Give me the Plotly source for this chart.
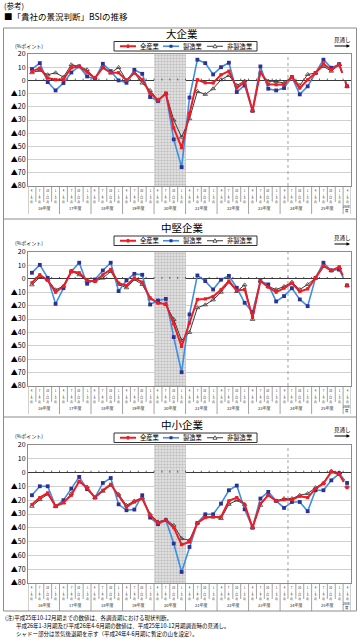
import plotly.graph_objects as go

# ---------------- data ----------------
quarters = ["4~6月", "7~9月", "10~12月", "1~3月"]
fiscal_years = ["16年度", "17年度", "18年度", "19年度", "20年度", "21年度",
                "22年度", "23年度", "24年度", "25年度", "26年度"]
categories = [fy + q for fy in fiscal_years[:-1] for q in quarters] + [fiscal_years[-1] + quarters[0]]
quarter_labels = [q for fy in fiscal_years[:-1] for q in quarters] + [quarters[0]]

series_names = ["全産業", "製造業", "非製造業"]

large_all = [6.8, 9.3, 1.8, 0.5, 0.8, 9.6, 10.6, 6.3, 1.8, 9.6, 5.8, 5.8, 0, 5.8, 0.5, -9.6,
             -15, -10, -36, -51, -25, 0.5, -1.8, -2, 4.3, 7, -5.8, -1.3, -23, 6.3, -3, -3.3,
             -3.3, 2.5, -5.8, 0.5, 5.6, 12.6, 8, 12.1, -4.5]
large_mfg = [8.6, 13.1, -1.3, -7.6, -2, 6, 10.6, 3, 1.3, 12.6, 7, 0, -1.8, 8, 5, -12.6,
             -15.6, -10, -44.7, -65.7, -13, 15.7, 13.1, 4.5, 10, 13.4, -8.8, -3.8, -23, 10.6, -6.3, -7.6,
             -5.8, 2.5, -10.6, -4.5, 5.6, 15.7, 9.6, 12.1, -4.5]
large_non = [5.8, 7.6, 4.3, 5.8, 2.5, 11.9, 10.6, 8, 1.8, 10.9, 5.6, 9.8, 0, 5.6, -2, -7.6,
             -15, -10, -30, -43, -29, -8.3, -10.6, -6.3, 0.5, 3.8, -3.8, -0.5, -23, 5.6, -0.5, -0.8,
             -2, 2.5, -3.8, 4.5, 5.6, 10.6, 7, 12.1, -4.5]

mid_all = [-3, 3, -1.2, -10, -5.7, 5.5, 4.5, -1.2, -2, 3, 7, -3.2, -5, 0.7, -2.5, -14.2,
           -18.2, -18.7, -33.6, -50.5, -33, -15.4, -15, -13.2, -8.2, -1.7, -8.7, -8, -28.6, -1.7, -6.2, -10,
           -7, -3.2, -9.5, -7.5, 0.7, 9.5, 6.2, 8.7, -5]
mid_mfg = [4.5, 10.4, 0.7, -18.7, -7, 5.5, 12, -3.7, -0.5, 6.2, 12, -9.2, -1.2, 3.7, 3, -19.2,
           -16.2, -15, -43.5, -69.7, -26.6, 2.5, -1.7, -8, -0.7, 2.2, -6.7, -17.9, -24.9, -1.7, -4.2, -16.9,
           -12.9, -7, -15.4, -20.4, 0.7, 12, 6.2, 7, -5]
mid_non = [-4.5, 1.2, -0.7, -8.2, -5.5, 5.7, 3, -1.7, -1.7, 0.5, 5.5, -4.2, -6.7, -0.5, -4.2, -15,
           -17.4, -19.2, -30.3, -46, -40, -21.6, -19.4, -15.7, -10, -2.5, -9.5, -4.5, -30.3, -1.7, -5.7, -8,
           -5.7, -2.5, -8, -4.2, 0.7, 10, 6.2, 8.2, -5]

small_all = [-23.2, -18.1, -14.7, -24.4, -21.7, -16.4, -6.3, -11.1, -18.1, -12.8, -8.5, -16.4, -24.9, -21.3, -18.8, -30.9,
             -36.5, -34.5, -39.9, -52.2, -50.2, -36.5, -32.6, -32.1, -32.1, -20.5, -18.1, -23, -39.9, -22.5, -16.4, -20.5,
             -19.6, -19.6, -17.1, -18.1, -11.6, -8, 0.5, -1.2, -10.9]
small_mfg = [-16.4, -9.9, -9.9, -24.4, -20, -11.6, -3.1, -12, -18.1, -7.5, -3.9, -23, -27.3, -26.8, -16.4, -32.6,
             -37.4, -34.5, -51.4, -72, -53.9, -36.5, -30.2, -30.2, -22.5, -12.8, -9.4, -26.6, -39.9, -18.8, -14, -20.5,
             -25.6, -21.3, -21.3, -28, -12.8, -12.8, -5.6, -0.7, -7.5]
small_non = [-24.4, -19.6, -15.7, -24.4, -22, -15.2, -6.8, -10.4, -18.1, -13.5, -9.2, -15.7, -23.7, -20.5, -18.1, -30.2,
             -35.7, -34.1, -38.2, -47.8, -49, -36.5, -32.1, -32.1, -33.3, -23, -20, -23.2, -39.9, -23.7, -16.4, -20.5,
             -18.8, -18.8, -16.4, -15.2, -10.9, -7.5, 1.2, -0.2, -9.9]

y_ticks = [20, 10, 0, -10, -20, -30, -40, -50, -60, -70, -80]
y_ticktext = [("▲" + str(-v)) if v < 0 else str(v) for v in y_ticks]
Y_MIN, Y_MAX = -80, 20

panel_titles = ["大企業", "中堅企業", "中小企業"]
panel_values = [(large_all, large_mfg, large_non), (mid_all, mid_mfg, mid_non), (small_all, small_mfg, small_non)]

recession_start, recession_len = 16, 4   # 20年度
peak_boundary = 32.5                      # after 24年4-6月

header1 = "(参考)"
header2 = "■「貴社の景況判断」BSIの推移"
notes = ["(注)平成25年10-12月期までの数値は、各調査期における現状判断。",
         "平成26年1-3月期及び平成26年4-6月期の数値は、平成25年10-12月期調査時の見通し。",
         "シャドー部分は景気後退期を示す（平成24年4-6月期に暫定の山を設定）。"]

# ---------------- layout helpers ----------------
W, H = 360, 640
FONT = "Noto Sans CJK JP"
def px(v): return v / W
def py(v): return 1 - v / H

layout_pos = [
    dict(top=54, bottom=186, title_y=33.5, legend_top=41.5, unit_y=45, mito_y=40, arrow_y=46),
    dict(top=252, bottom=386, title_y=227.5, legend_top=236, unit_y=242, mito_y=238, arrow_y=244),
    dict(top=445, bottom=583, title_y=424.5, legend_top=433, unit_y=435, mito_y=430, arrow_y=436),
]
X0, X1 = 28, 351

RED = "#ee1c25"
BLUE_LINE = "#3d8fe0"
BLUE_MK = "#2e3192"
BLACK = "#3a3a3a"

fig = go.Figure()
shapes = []
annotations = []
layout_updates = {}

def note(x, y, text, size, xanchor="center", yanchor="middle", xref="paper", yref="paper", color="#000"):
    annotations.append(dict(x=x, y=y, xref=xref, yref=yref, xanchor=xanchor, yanchor=yanchor,
                            text=text, showarrow=False, font=dict(size=size, family=FONT, color=color)))

legend_entries = [  # (name index, color, line width, marker kind, line x0, text x)
    (0, RED, 2, "sq_red", 120, 138),
    (1, BLUE_LINE, 1.6, "sq_blue", 163, 181),
    (2, BLACK, 1, "tri", 207, 225),
]

for k in range(3):
    sfx = "" if k == 0 else str(k + 1)
    xa, ya = "x" + sfx, "y" + sfx
    pos = layout_pos[k]
    v_all, v_mfg, v_non = panel_values[k]

    # shaded recession period
    fig.add_trace(go.Bar(
        x=[categories[recession_start]], y=[Y_MAX - Y_MIN], base=[Y_MIN],
        width=[recession_len], offset=-0.5, xaxis=xa, yaxis=ya, showlegend=False,
        marker=dict(color="#e0e0e0", line=dict(width=0),
                    pattern=dict(shape=".", fgcolor="#979797", bgcolor="#e0e0e0", size=3, solidity=0.4)),
        hoverinfo="skip"))

    styles = [
        (series_names[2], v_non, dict(color=BLACK, width=1), dict(symbol="triangle-up-open", size=4, color=BLACK, line=dict(width=0.8, color=BLACK))),
        (series_names[1], v_mfg, dict(color=BLUE_LINE, width=1.6), dict(symbol="square", size=3.8, color=BLUE_MK)),
        (series_names[0], v_all, dict(color=RED, width=2), dict(symbol="square", size=3.2, color=RED)),
    ]
    for name, vals, line, marker in styles:
        fig.add_trace(go.Scatter(
            x=categories[:-1], y=vals[:-1], mode="lines+markers", name=name,
            line=line, marker=marker, xaxis=xa, yaxis=ya, showlegend=False))
        dl = dict(line); dl["dash"] = "dash"
        fig.add_trace(go.Scatter(
            x=categories[-2:], y=vals[-2:], mode="lines+markers", name=name,
            line=dl, marker=marker, xaxis=xa, yaxis=ya, showlegend=False))

    layout_updates["xaxis" + sfx] = dict(
        domain=[px(X0), px(X1)], anchor=ya, type="category", categoryorder="array", categoryarray=categories,
        range=[-0.5, len(categories) - 0.5], showticklabels=False, ticks="",
        showgrid=False, showline=True, mirror=True, linecolor="#8c8c8c", linewidth=1, zeroline=False)
    layout_updates["yaxis" + sfx] = dict(
        domain=[py(pos["bottom"]), py(pos["top"])], anchor=xa, range=[Y_MIN, Y_MAX],
        tickvals=y_ticks, ticktext=y_ticktext, tickfont=dict(size=7, color="#000", family=FONT),
        showgrid=True, gridcolor="#d0d0d0", gridwidth=1, zeroline=True, zerolinecolor="#3a3a3a",
        zerolinewidth=1, showline=True, mirror=True, linecolor="#8c8c8c", ticks="", automargin=False)

    # peak dashed line
    shapes.append(dict(type="line", xref=xa, yref=ya + " domain", x0=peak_boundary, x1=peak_boundary,
                       y0=0, y1=1, line=dict(color="#a0a0a0", width=1, dash="dot")))
    # ticks on zero line
    for b in range(len(categories) - 1):
        shapes.append(dict(type="line", xref=xa, yref=ya, x0=b + 0.5, x1=b + 0.5, y0=0, y1=1.4,
                           line=dict(color="#3a3a3a", width=0.8)))
    # category label area separators
    for b in range(len(categories) + 1):
        long_sep = (b % 4 == 0) or b == len(categories)
        shapes.append(dict(type="line", xref=xa, yref="paper", x0=b - 0.5, x1=b - 0.5,
                           y0=py(pos["bottom"]), y1=py(pos["bottom"] + (28 if long_sep else 16)),
                           line=dict(color="#8c8c8c", width=0.8)))
    # quarter labels (vertical writing)
    for i, q in enumerate(quarter_labels):
        num = q.replace("月", "").split("~")
        txt = "<br>".join([num[0], "|", num[1], "月"])
        note(i, py(pos["bottom"] + 1), txt, 2.8, xref=xa, yanchor="top", color="#222")
    # fiscal year labels
    for j, fy in enumerate(fiscal_years):
        if j < len(fiscal_years) - 1:
            note(j * 4 + 1.5, py(pos["bottom"] + 22), fy, 4, xref=xa, color="#222")
        else:
            note(j * 4, py(pos["bottom"] + 22.5), fy[:-1] + "<br>" + fy[-1], 3.4, xref=xa, color="#222")
    # titles and labels
    note(px(182), py(pos["title_y"]), panel_titles[k], 10.5)
    note(px(13), py(pos["unit_y"]), "(%ポイント)", 5, xanchor="left")
    note(px(342), py(pos["mito_y"]), "見通し", 5.5)
    annotations.append(dict(x=px(350), y=py(pos["arrow_y"]), xref="paper", yref="paper", text="",
                            showarrow=True, ax=-17, ay=0, arrowhead=2, arrowsize=0.7, arrowwidth=1,
                            arrowcolor="#000"))

    # legend box (one per panel, like the original)
    lt = pos["legend_top"]
    lm = lt + 4.75
    shapes.append(dict(type="rect", xref="paper", yref="paper", x0=px(114), x1=px(257), y0=py(lt + 9.5), y1=py(lt),
                       line=dict(color="#333", width=1), fillcolor="white"))
    for ni, col, lw, mk, lx0, tx in legend_entries:
        shapes.append(dict(type="line", xref="paper", yref="paper", x0=px(lx0), x1=px(lx0 + 16),
                           y0=py(lm), y1=py(lm), line=dict(color=col, width=lw)))
        cx = lx0 + 8
        if mk == "sq_red":
            shapes.append(dict(type="rect", xref="paper", yref="paper", x0=px(cx - 1.2), x1=px(cx + 1.2),
                               y0=py(lm + 1.8), y1=py(lm - 1.8), line=dict(width=0), fillcolor=RED))
        elif mk == "sq_blue":
            shapes.append(dict(type="rect", xref="paper", yref="paper", x0=px(cx - 1.5), x1=px(cx + 1.5),
                               y0=py(lm + 1.5), y1=py(lm - 1.5), line=dict(width=0), fillcolor=BLUE_MK))
        else:
            path = "M {:.5f},{:.5f} L {:.5f},{:.5f} L {:.5f},{:.5f} Z".format(
                px(cx - 2), py(lm + 1.5), px(cx + 2), py(lm + 1.5), px(cx), py(lm - 2))
            shapes.append(dict(type="path", xref="paper", yref="paper", path=path,
                               line=dict(color=BLACK, width=0.8), fillcolor="white"))
        note(px(tx), py(lm), series_names[ni], 6.3, xanchor="left")

# outer frame and separators
shapes.append(dict(type="rect", xref="paper", yref="paper", x0=px(3.5), x1=px(356.5), y0=py(611), y1=py(28),
                   line=dict(color="#8c8c8c", width=1)))
for ysep in (219, 417):
    shapes.append(dict(type="line", xref="paper", yref="paper", x0=px(3.5), x1=px(356.5), y0=py(ysep), y1=py(ysep),
                       line=dict(color="#8c8c8c", width=1)))

# header
note(px(2), py(5), header1, 7.5, xanchor="left")
note(px(2), py(16.5), header2, 8.5, xanchor="left")
# notes
for txt, yy, xx in zip(notes, (618, 626, 634), (3, 14, 14)):
    note(px(xx), py(yy), txt, 5.5, xanchor="left")

fig.update_layout(
    width=W, height=H, autosize=False, margin=dict(l=0, r=0, t=0, b=0),
    paper_bgcolor="white", plot_bgcolor="white", font=dict(family=FONT),
    shapes=shapes, annotations=annotations, bargap=0, barmode="overlay", showlegend=False,
    **layout_updates)

fig.write_html("out.html", config={"displayModeBar": False},
               post_script="document.body.style.margin='0px';document.body.style.overflow='hidden';")
